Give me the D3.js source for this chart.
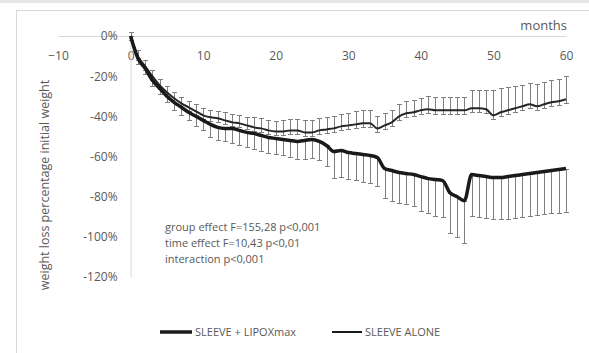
<!DOCTYPE html>
<html>
<head>
<meta charset="utf-8">
<script src="https://cdn.jsdelivr.net/npm/d3@7"></script>
<style>
  body { margin: 0; background: #fff; }
  text { font-family: "Open Sans", sans-serif; fill: #595959; }
</style>
</head>
<body>
<div id="chart"></div>
<script>
// months 0..60
const months = d3.range(0, 61);

// SLEEVE + LIPOXmax : mean weight loss (%) and SD (drawn downward)
const lipoxMean = [0, -11, -16, -22, -26, -30, -33, -35.5, -38, -40,
  -42, -44, -45.5, -46, -46, -47, -48, -48.5, -49.5, -50.5,
  -51, -51.5, -52, -52.5, -52, -51.5, -52.5, -54.5, -57.5, -57,
  -58, -58.5, -59, -59.5, -60.5, -66, -67, -68, -68.5, -69,
  -70, -71, -71.5, -72, -78, -80, -82, -69, -69.5, -70,
  -70.5, -70.5, -70, -69.5, -69, -68.5, -68, -67.5, -67, -66.5, -66];
const lipoxErr = [2, 3, 3, 3, 3, 3, 4, 4, 4, 5,
  5, 6.5, 6.5, 6.5, 7.5, 7.5, 7.5, 8, 8, 8,
  8, 8, 8, 8.5, 9, 9, 9, 10, 13, 13,
  13, 13, 13.5, 13.5, 14, 14.5, 15, 15, 15, 15.5,
  17, 17, 18, 18, 20, 20, 21, 20.5, 20.5, 20.5,
  20.5, 20.5, 21, 21, 21, 21, 21, 21, 21, 21.5, 21.5];

// SLEEVE ALONE : mean weight loss (%) and SD (drawn upward)
const aloneMean = [0, -10, -15, -20, -24.5, -28, -31, -33.5, -35.5, -37.5,
  -39.5, -40.5, -41, -42, -43, -43.5, -44.5, -45.5, -46, -47,
  -47.5, -47.5, -47, -47, -48, -48, -47, -46.5, -46, -45,
  -44.5, -44, -43.5, -43.5, -46, -44.5, -43, -40, -38.5, -38,
  -37, -36.5, -37, -37, -37, -37, -37, -36, -36, -36.5,
  -39.5, -38, -37, -36, -35, -34, -35, -34, -33, -32.5, -31.5];
const aloneErr = [2, 3, 3, 3, 3, 3, 3, 3, 3, 3.5,
  3.5, 3.5, 3.5, 4, 4, 4, 4, 5, 5, 5,
  5, 5.5, 5.5, 5.5, 6, 6, 6, 6, 6, 6,
  6, 6.5, 6.5, 6.5, 6, 6, 6, 6, 6, 6,
  6, 6.5, 6.5, 6.5, 6.5, 6.5, 6.5, 9, 9, 9.5,
  12.5, 12, 11.5, 11, 10.5, 10.5, 11, 11, 11, 11, 11.5];

const xTicks = [-10, 0, 10, 20, 30, 40, 50, 60];
const yTicks = [0, -20, -40, -60, -80, -100, -120];

const annotation = [
  "group effect F=155,28 p<0,001",
  "time effect F=10,43 p<0,01",
  "interaction p<0,001"
];
const seriesNames = ["SLEEVE + LIPOXmax", "SLEEVE ALONE"];

const width = 589, height = 353;
const stub = 2;   // small lower whisker under the thin series
const capW = 5;

const svg = d3.select("#chart").append("svg")
  .attr("width", width)
  .attr("height", height);

// frame
svg.append("rect").attr("x", 0).attr("y", 0).attr("width", width).attr("height", 3).attr("fill", "#e6e6e6");
svg.append("rect")
  .attr("x", 16.5).attr("y", 10.5)
  .attr("width", 600).attr("height", 400)
  .attr("fill", "#fff")
  .attr("stroke", "#d9d9d9");

const x = d3.scaleLinear().domain([-10, 60]).range([58, 566]);
const y = d3.scaleLinear().domain([-120, 0]).range([277, 36]);

// axes
const xAxis = svg.append("g")
  .attr("transform", `translate(0,${y(0)})`)
  .call(d3.axisBottom(x).tickValues(xTicks).tickSize(0).tickPadding(15).tickFormat(d3.format("d")));
const yAxis = svg.append("g")
  .attr("transform", `translate(${x(0)},0)`)
  .call(d3.axisLeft(y).tickValues(yTicks).tickSize(0).tickPadding(13).tickFormat(d => d + "%"));

[xAxis, yAxis].forEach(a => {
  a.select(".domain").attr("stroke", "#d9d9d9").attr("stroke-width", 1);
  a.selectAll("text").style("font-size", "12px").attr("fill", "#595959").style("font-family", "'Open Sans', sans-serif");
});

// error bars
const bars = svg.append("g").attr("stroke", "#7f7f7f").attr("stroke-width", 1).attr("fill", "none");

function drawBars(mean, lo, hi) {
  const g = bars.append("g");
  months.forEach((m, i) => {
    const px = Math.round(x(m)) + 0.5;
    const y1 = Math.round(y(lo(i))) + 0.5, y2 = Math.round(y(hi(i))) + 0.5;
    g.append("line").attr("x1", px).attr("x2", px).attr("y1", y1).attr("y2", y2);
    g.append("line").attr("x1", px - capW / 2).attr("x2", px + capW / 2).attr("y1", y1).attr("y2", y1);
    g.append("line").attr("x1", px - capW / 2).attr("x2", px + capW / 2).attr("y1", y2).attr("y2", y2);
  });
}
drawBars(lipoxMean, i => lipoxMean[i] - lipoxErr[i], i => lipoxMean[i]);
drawBars(aloneMean, i => aloneMean[i] - stub, i => aloneMean[i] + aloneErr[i]);

// lines
const line = d3.line()
  .x((d, i) => x(months[i]))
  .y(d => y(d))
  .curve(d3.curveMonotoneX);

svg.append("path")
  .attr("d", line(aloneMean))
  .attr("fill", "none")
  .attr("stroke", "#262626")
  .attr("stroke-width", 2);

svg.append("path")
  .attr("d", line(lipoxMean))
  .attr("fill", "none")
  .attr("stroke", "#1a1a1a")
  .attr("stroke-width", 3.5);

// axis titles
svg.append("text")
  .attr("x", 567).attr("y", 30)
  .attr("text-anchor", "end")
  .style("font-size", "13px")
  .text("months");

svg.append("text")
  .attr("transform", "translate(49,185) rotate(-90)")
  .attr("text-anchor", "middle")
  .style("font-size", "12.5px")
  .text("weight loss percentage initial weight");

// statistics note
svg.append("g").selectAll("text")
  .data(annotation)
  .join("text")
    .attr("x", 165)
    .attr("y", (d, i) => 231 + i * 16)
    .style("font-size", "11px")
    .text(d => d);

// legend
const legend = svg.append("g");
const legendItems = [
  { name: seriesNames[0], x1: 160, x2: 192, w: 3.5 },
  { name: seriesNames[1], x1: 332, x2: 362, w: 2 }
];
legendItems.forEach(it => {
  legend.append("line")
    .attr("x1", it.x1).attr("x2", it.x2)
    .attr("y1", 332).attr("y2", 332)
    .attr("stroke", "#1a1a1a").attr("stroke-width", it.w);
  legend.append("text")
    .attr("x", it.x2 + 3).attr("y", 336)
    .style("font-size", "11px")
    .text(it.name);
});
</script>
</body>
</html>
